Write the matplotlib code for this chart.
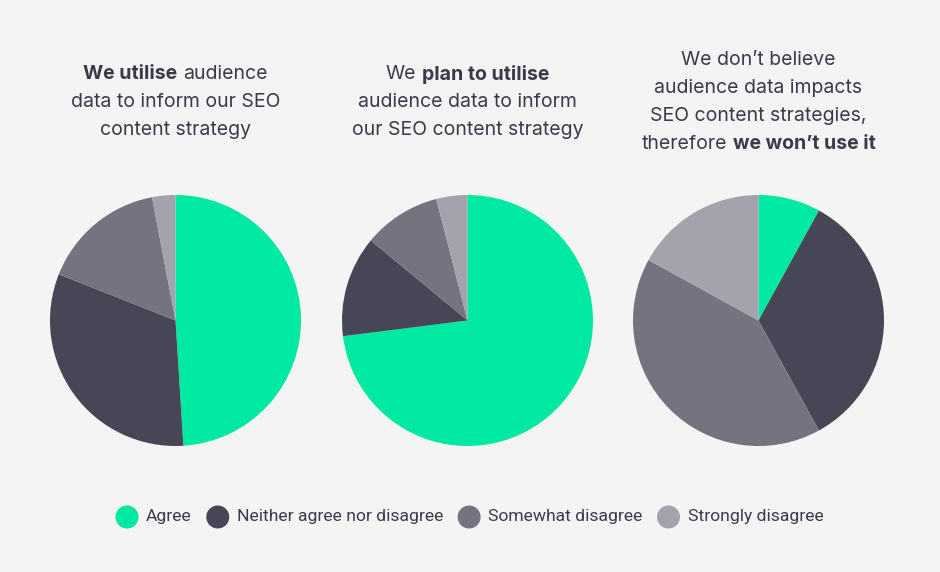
import matplotlib
matplotlib.use("Agg")
import matplotlib.pyplot as plt
from matplotlib.patches import Ellipse

# data (percent)
categories = ["Agree", "Neither agree nor disagree", "Somewhat disagree", "Strongly disagree"]
utilise_vals = [49, 32, 16, 3]
plan_vals = [73, 13, 10, 4]
wont_vals = [8, 34, 41, 17]

titles = [
    [[("We utilise", "bold"), ("audience", "normal")],
     [("data to inform our SEO", "normal")],
     [("content strategy", "normal")]],
    [[("We", "normal"), ("plan to utilise", "bold")],
     [("audience data to inform", "normal")],
     [("our SEO content strategy", "normal")]],
    [[("We don\u2019t believe", "normal")],
     [("audience data impacts", "normal")],
     [("SEO content strategies,", "normal")],
     [("therefore", "normal"), ("we won\u2019t use it", "bold")]],
]

colors = ["#00e9a3", "#464657", "#737480", "#a3a3ad"]
bg = "#f4f4f4"
txt_col = "#3a3a4a"
W, H = 940, 572

fig = plt.figure(figsize=(9.4, 5.72), dpi=100, facecolor=bg)
renderer = fig.canvas.get_renderer()

TITLE_FONT = "Inter"
TITLE_SIZE = 14
LEG_FONT = "Roboto"
LEG_SIZE = 12.6


def text_width(s, **kw):
    t = fig.text(0, 0, s, **kw)
    w = t.get_window_extent(renderer).width
    t.remove()
    return w


def draw_line(xc, y, segments):
    # one title line made of normal / bold pieces, centred on xc (pixels)
    kw = dict(family=TITLE_FONT, fontsize=TITLE_SIZE)
    space = text_width("a a", **kw) - text_width("aa", **kw)
    widths = [text_width(s, fontweight=w, **kw) for s, w in segments]
    total = sum(widths) + space * (len(segments) - 1)
    x = xc - total / 2
    for (s, w), wd in zip(segments, widths):
        fig.text(x / W, 1 - y / H, s, fontweight=w, color=txt_col,
                 ha="left", va="center_baseline", **kw)
        x += wd + space


centers = [175.5, 467.5, 758.5]
radius = 125.5
cy = 320.5
all_vals = [utilise_vals, plan_vals, wont_vals]

for xc, vals, title in zip(centers, all_vals, titles):
    ax = fig.add_axes([(xc - radius) / W, (H - cy - radius) / H,
                       2 * radius / W, 2 * radius / H])
    ax.pie(vals, colors=colors, startangle=90, counterclock=False,
           wedgeprops=dict(linewidth=0))
    ax.set_xlim(-1, 1)
    ax.set_ylim(-1, 1)
    ax.set_aspect("equal")
    ax.axis("off")
    # title blocks are centred vertically around the same height
    n = len(title)
    for i, line in enumerate(title):
        draw_line(xc, 100 + (i - (n - 1) / 2) * 28, line)

# legend drawn by hand so the spacing follows the original
leg_y = 517
x = 115.5
r = 11.5
for cat, col in zip(categories, colors):
    fig.add_artist(Ellipse(((x + r) / W, 1 - leg_y / H), 2 * r / W, 2 * r / H,
                           transform=fig.transFigure, facecolor=col, edgecolor="none"))
    tx = x + 2 * r + 7.5
    fig.text(tx / W, 1 - leg_y / H, cat, family=LEG_FONT, fontsize=LEG_SIZE,
             color=txt_col, ha="left", va="center")
    x = tx + text_width(cat, family=LEG_FONT, fontsize=LEG_SIZE) + 14.5

fig.savefig("out.png", dpi=100, facecolor=bg)
